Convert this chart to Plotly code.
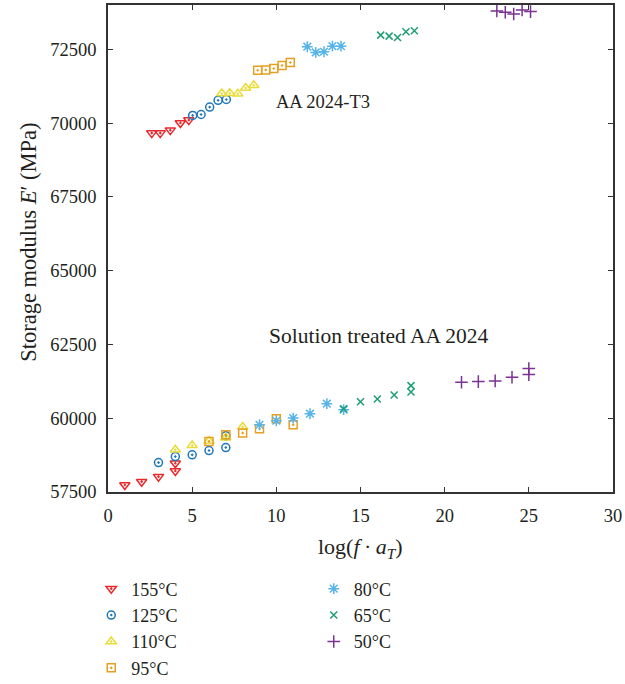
import plotly.graph_objects as go

# ---------------- data ----------------
labels = ["155°C", "125°C", "110°C", "95°C", "80°C", "65°C", "50°C"]

# AA 2024-T3 (upper cluster)
t3_155_x = [2.6, 3.1, 3.7, 4.3, 4.8]
t3_155_y = [69660, 69660, 69760, 70000, 70100]
t3_125_x = [5.03, 5.53, 6.04, 6.54, 7.03]
t3_125_y = [70260, 70290, 70540, 70770, 70800]
t3_110_x = [6.76, 7.23, 7.71, 8.18, 8.66]
t3_110_y = [71000, 71010, 70990, 71190, 71280]
t3_95_x = [8.89, 9.37, 9.85, 10.34, 10.83]
t3_95_y = [71790, 71800, 71848, 71950, 72050]
t3_80_x = [11.84, 12.34, 12.83, 13.33, 13.84]
t3_80_y = [72586, 72392, 72416, 72606, 72606]
t3_65_x = [16.2, 16.7, 17.2, 17.7, 18.2]
t3_65_y = [72980, 72946, 72902, 73096, 73130]
t3_50_x = [23.1, 23.6, 24.1, 24.6, 25.1]
t3_50_y = [73796, 73752, 73694, 73830, 73776]

# Solution treated AA 2024 (lower cluster)
st_155_x = [1, 2, 3, 4, 4]
st_155_y = [57738, 57850, 58020, 58214, 58476]
st_125_x = [3, 4, 5, 6, 7, 7]
st_125_y = [58496, 58700, 58758, 58904, 59006, 59404]
st_110_x = [4, 5, 6, 7, 8]
st_110_y = [58930, 59080, 59230, 59340, 59700]
st_95_x = [6, 7, 8, 9, 10, 11]
st_95_y = [59210, 59438, 59496, 59642, 59982, 59778]
st_80_x = [9, 10, 11, 12, 13, 14]
st_80_y = [59778, 59914, 60006, 60152, 60492, 60288]
st_65_x = [14, 15, 16, 17, 18, 18]
st_65_y = [60322, 60560, 60652, 60788, 60890, 61104]
st_50_x = [21, 22, 23, 24, 25, 25]
st_50_y = [61216, 61240, 61264, 61386, 61478, 61682]

x_ticks = [0, 5, 10, 15, 20, 25, 30]
y_ticks = [57500, 60000, 62500, 65000, 67500, 70000, 72500]

# ---------------- styling ----------------
FONT = "Liberation Serif"
TXT = "#231F20"
colors = ["#E8282B", "#1F77B8", "#E8DC3A", "#E69F20", "#56B4E9", "#1E9E73", "#7B3294"]
symbols = ["triangle-down-open-dot", "circle-open-dot", "triangle-up-open-dot",
           "square-open-dot", "asterisk-open", "x-thin-open", "cross-thin-open"]
sizes = [9, 8, 9, 8, 9, 7, 9]
legends = ["legend", "legend", "legend", "legend", "legend2", "legend2", "legend2"]

series = [
    (t3_155_x + st_155_x, t3_155_y + st_155_y),
    (t3_125_x + st_125_x, t3_125_y + st_125_y),
    (t3_110_x + st_110_x, t3_110_y + st_110_y),
    (t3_95_x + st_95_x, t3_95_y + st_95_y),
    (t3_80_x + st_80_x, t3_80_y + st_80_y),
    (t3_65_x + st_65_x, t3_65_y + st_65_y),
    (t3_50_x + st_50_x, t3_50_y + st_50_y),
]

fig = go.Figure()
for i, (xs, ys) in enumerate(series):
    fig.add_trace(go.Scatter(
        x=xs, y=ys, mode="markers", name=labels[i], legend=legends[i],
        marker=dict(symbol=symbols[i], size=sizes[i], color=colors[i],
                    line=dict(width=1.5, color=colors[i])),
    ))

axis_common = dict(
    showline=True, linecolor="#333333", linewidth=1.5, mirror="ticks",
    ticks="inside", ticklen=5, tickwidth=1.2, tickcolor="#333333",
    showgrid=False, zeroline=False,
    tickfont=dict(family=FONT, size=18.5, color=TXT),
)

fig.update_xaxes(range=[0, 30], tickvals=x_ticks, ticklabelstandoff=6, **axis_common)
fig.update_yaxes(range=[57500, 74000], tickvals=y_ticks, tickformat="d",
                 ticklabelstandoff=6, **axis_common)

fig.add_annotation(xref="paper", yref="paper", x=0.5, y=-0.115,
                   text="log(<i>f</i>\u2009·\u2009<i>a</i><sub><i>T</i></sub>)",
                   showarrow=False, xanchor="center", yanchor="middle",
                   font=dict(family=FONT, size=22, color=TXT))
fig.add_annotation(xref="paper", yref="paper", x=-0.158, y=0.512,
                   text="Storage modulus <i>E</i>′ (MPa)", textangle=-90,
                   showarrow=False, xanchor="center", yanchor="middle",
                   font=dict(family=FONT, size=22.5, color=TXT))
fig.add_annotation(x=12.75, y=70730, text="AA 2024-T3", showarrow=False,
                   font=dict(family=FONT, size=18.5, color=TXT))
fig.add_annotation(x=16.04, y=62770, text="Solution treated AA 2024", showarrow=False,
                   font=dict(family=FONT, size=21.5, color=TXT))

legend_common = dict(
    xref="container", yref="container", xanchor="left", yanchor="top",
    orientation="v", bgcolor="rgba(0,0,0,0)", tracegroupgap=0,
    font=dict(family=FONT, size=18, color=TXT),
)

fig.update_layout(
    width=625, height=684,
    margin=dict(l=108, r=12, t=5, b=192, autoexpand=False),
    paper_bgcolor="white", plot_bgcolor="white",
    showlegend=True,
    legend=dict(x=0.146, y=0.166, **legend_common),
    legend2=dict(x=0.502, y=0.166, **legend_common),
)

fig.write_html("out.html")
